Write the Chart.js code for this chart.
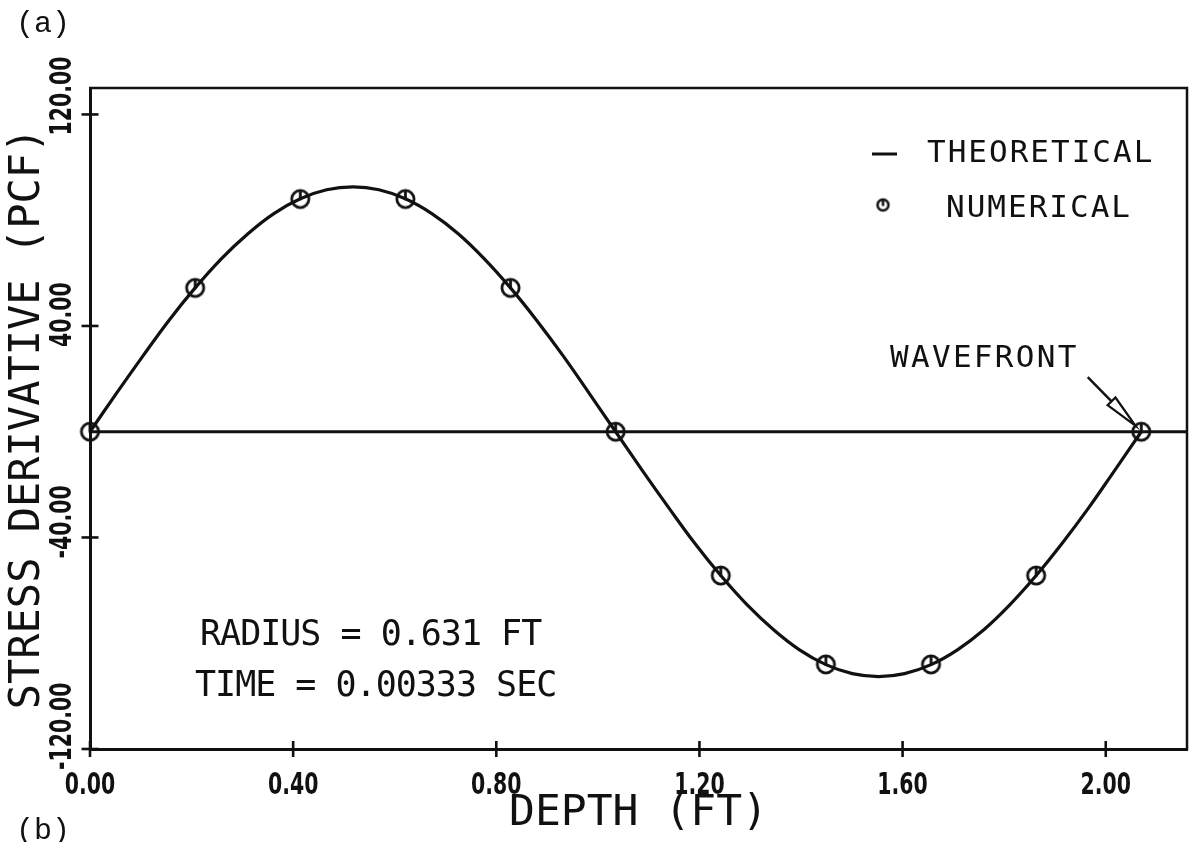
<!DOCTYPE html>
<html><head><meta charset="utf-8">
<script src="https://cdn.jsdelivr.net/npm/chart.js@4.4.1/dist/chart.umd.min.js"></script>
<style>html,body{margin:0;padding:0;background:#fff;overflow:hidden}#wrap{width:1198px;height:842px;position:relative}</style>
</head><body><div id="wrap"><canvas id="c" width="1198" height="842"></canvas></div>
<script>
// ---- data ----
const depthTheory = [0.000,0.052,0.104,0.155,0.207,0.259,0.311,0.362,0.414,0.466,0.518,0.569,0.621,0.673,0.725,0.776,0.828,0.880,0.932,0.983,1.035,1.087,1.139,1.190,1.242,1.294,1.346,1.397,1.449,1.501,1.553,1.604,1.656,1.708,1.760,1.811,1.863,1.915,1.967,2.018,2.070];
const stressTheory = [0,14.5,28.6,42.0,54.4,65.5,74.9,82.5,88.1,91.5,92.6,91.5,88.1,82.5,74.9,65.5,54.4,42.0,28.6,14.5,0,-14.5,-28.6,-42.0,-54.4,-65.5,-74.9,-82.5,-88.1,-91.5,-92.6,-91.5,-88.1,-82.5,-74.9,-65.5,-54.4,-42.0,-28.6,-14.5,0];
const depthNumerical = [0,0.207,0.414,0.621,0.828,1.035,1.242,1.449,1.656,1.863,2.070];
const stressNumerical = [0,54.4,88.0,88.0,54.4,0,-54.4,-88.0,-88.0,-54.4,0];
const zeroLineDepth = [0, 2.16];
const zeroLineStress = [0, 0];
const xTickValues = [0, 0.4, 0.8, 1.2, 1.6, 2.0];
const yTickValues = [-120, -40, 40, 120];
const xRange = [0, 2.16];
const yRange = [-120, 130];
const wavefrontDepth = 2.070;
const xTitle = 'DEPTH (FT)';
const yTitle = 'STRESS DERIVATIVE (PCF)';
const legendLabels = ['THEORETICAL', 'NUMERICAL'];
const noteLines = ['RADIUS = 0.631 FT', 'TIME = 0.00333 SEC'];

const INK = '#111';
const MONO = '"DejaVu Sans Mono", monospace';
const TICKFONT = 'bold 31px "DejaVu Sans", sans-serif';
const TICK_SQUEEZE = 0.66;
const fmt = v => Number(v).toFixed(2);
const pts = (xs, ys) => xs.map((x, i) => ({x, y: ys[i]}));

function makeMarker(r, lw) {
  const s = Math.ceil(2 * r + lw + 2) + 1;
  const c = document.createElement('canvas');
  c.width = s; c.height = s;
  const g = c.getContext('2d');
  g.strokeStyle = INK; g.lineWidth = lw;
  g.beginPath(); g.arc(s / 2, s / 2, r, 0, Math.PI * 2); g.stroke();
  g.beginPath(); g.moveTo(s / 2, s / 2 + 1); g.lineTo(s / 2, s / 2 - r); g.stroke();
  return c;
}
const plotMarker = makeMarker(8.6, 2.8);
const legendMarker = makeMarker(5.5, 2.5);

function spacedText(ctx, txt, x, y, font, spacing) {
  ctx.save();
  ctx.font = font;
  try { ctx.letterSpacing = spacing + 'px'; } catch (e) {}
  ctx.fillStyle = INK;
  ctx.textAlign = 'left';
  ctx.textBaseline = 'alphabetic';
  ctx.fillText(txt, x, y);
  ctx.restore();
}

const decor = {
  id: 'decor',
  afterDraw(chart) {
    const {ctx, chartArea: a, scales: {x, y}} = chart;
    ctx.save();
    ctx.strokeStyle = INK; ctx.lineCap = 'butt';
    // frame top & right
    ctx.lineWidth = 2.5;
    ctx.beginPath(); ctx.moveTo(a.left - 1, a.top); ctx.lineTo(a.right, a.top); ctx.lineTo(a.right, a.bottom + 1); ctx.stroke();
    // tick crosses
    ctx.lineWidth = 2.6;
    x.ticks.forEach(t => { const px = x.getPixelForValue(t.value); ctx.beginPath(); ctx.moveTo(px, a.bottom - 8); ctx.lineTo(px, a.bottom + 8); ctx.stroke(); });
    y.ticks.forEach(t => { const py = y.getPixelForValue(t.value); ctx.beginPath(); ctx.moveTo(a.left - 8.5, py); ctx.lineTo(a.left + 8.5, py); ctx.stroke(); });
    // tick labels (narrow plotter digits)
    ctx.fillStyle = INK;
    ctx.font = TICKFONT;
    ctx.textBaseline = 'alphabetic';
    x.ticks.forEach(t => {
      const px = x.getPixelForValue(t.value);
      ctx.save(); ctx.translate(px, a.bottom + 45); ctx.scale(TICK_SQUEEZE, 1);
      ctx.textAlign = 'center'; ctx.fillText(fmt(t.value), 0, 0); ctx.restore();
    });
    y.ticks.forEach(t => {
      const py = y.getPixelForValue(t.value);
      ctx.save(); ctx.translate(a.left - 19, py + 21); ctx.rotate(-Math.PI / 2); ctx.scale(TICK_SQUEEZE, 1);
      ctx.textAlign = 'left'; ctx.fillText(fmt(t.value), 0, 0); ctx.restore();
    });
    // legend
    ctx.lineWidth = 3;
    ctx.beginPath(); ctx.moveTo(872, 154); ctx.lineTo(897, 154); ctx.stroke();
    ctx.drawImage(legendMarker, 883 - legendMarker.width / 2, 205 - legendMarker.height / 2);
    spacedText(ctx, legendLabels[0], 927, 162, '31px ' + MONO, 2);
    spacedText(ctx, legendLabels[1], 946, 217, '31px ' + MONO, 2);
    // notes
    spacedText(ctx, noteLines[0], 200, 645, '35px ' + MONO, -1);
    spacedText(ctx, noteLines[1], 195, 696, '35px ' + MONO, -1);
    // wavefront label + arrow
    spacedText(ctx, 'WAVEFRONT', 890, 367, '31px ' + MONO, 2.3);
    const cx = x.getPixelForValue(wavefrontDepth), cy = y.getPixelForValue(0);
    const dx = 0.70, dy = 0.714;
    const tipX = cx - 8.5 * dx, tipY = cy - 8.5 * dy;
    const baseX = tipX - 34 * dx, baseY = tipY - 34 * dy;
    const stX = tipX - 68 * dx, stY = tipY - 68 * dy;
    const nx = -dy, ny = dx;
    ctx.lineWidth = 2.5;
    ctx.beginPath(); ctx.moveTo(stX, stY); ctx.lineTo(baseX, baseY); ctx.stroke();
    ctx.lineWidth = 2.2;
    ctx.beginPath();
    ctx.moveTo(tipX, tipY);
    ctx.lineTo(baseX + nx * 5.5, baseY + ny * 5.5);
    ctx.lineTo(baseX - nx * 5.5, baseY - ny * 5.5);
    ctx.closePath(); ctx.stroke();
    // (a) (b)
    ctx.font = '30px "Liberation Mono", monospace';
    ctx.textAlign = 'left'; ctx.textBaseline = 'alphabetic';
    ctx.fillText('(a)', 16, 32);
    ctx.fillText('(b)', 16, 839);
    ctx.restore();
  }
};

new Chart(document.getElementById('c'), {
  type: 'scatter',
  data: {
    datasets: [
      { label: 'NUMERICAL', data: pts(depthNumerical, stressNumerical), showLine: false,
        pointStyle: plotMarker, pointRadius: 10, clip: false },
      { label: 'THEORETICAL', data: pts(depthTheory, stressTheory), showLine: true,
        borderColor: INK, borderWidth: 3.2, pointRadius: 0, tension: 0.4, fill: false, clip: false },
      { label: 'zero', data: pts(zeroLineDepth, zeroLineStress), showLine: true,
        borderColor: INK, borderWidth: 3, pointRadius: 0, fill: false }
    ]
  },
  options: {
    responsive: false, animation: false, devicePixelRatio: 1,
    layout: { padding: { left: 0, top: 88, right: 8, bottom: 0 } },
    plugins: { legend: { display: false }, tooltip: { enabled: false } },
    scales: {
      x: {
        type: 'linear', min: xRange[0], max: xRange[1],
        afterBuildTicks: s => { s.ticks = xTickValues.map(v => ({value: v})); },
        afterFit: s => { s.height = 93; },
        grid: { display: false, drawTicks: false },
        border: { display: true, color: INK, width: 3 },
        ticks: { display: false, callback: v => fmt(v) },
        title: { display: true, text: xTitle, color: INK,
          font: { family: MONO, size: 43 }, padding: { top: 0, bottom: 2 } }
      },
      y: {
        type: 'linear', min: yRange[0], max: yRange[1],
        afterBuildTicks: s => { s.ticks = yTickValues.map(v => ({value: v})); },
        afterFit: s => { s.width = 90; },
        grid: { display: false, drawTicks: false },
        border: { display: true, color: INK, width: 3 },
        ticks: { display: false, callback: v => fmt(v) },
        title: { display: true, text: yTitle, color: INK,
          font: { family: MONO, size: 42 }, padding: { top: 3, bottom: 0 } }
      }
    }
  },
  plugins: [decor]
});
</script></body></html>
